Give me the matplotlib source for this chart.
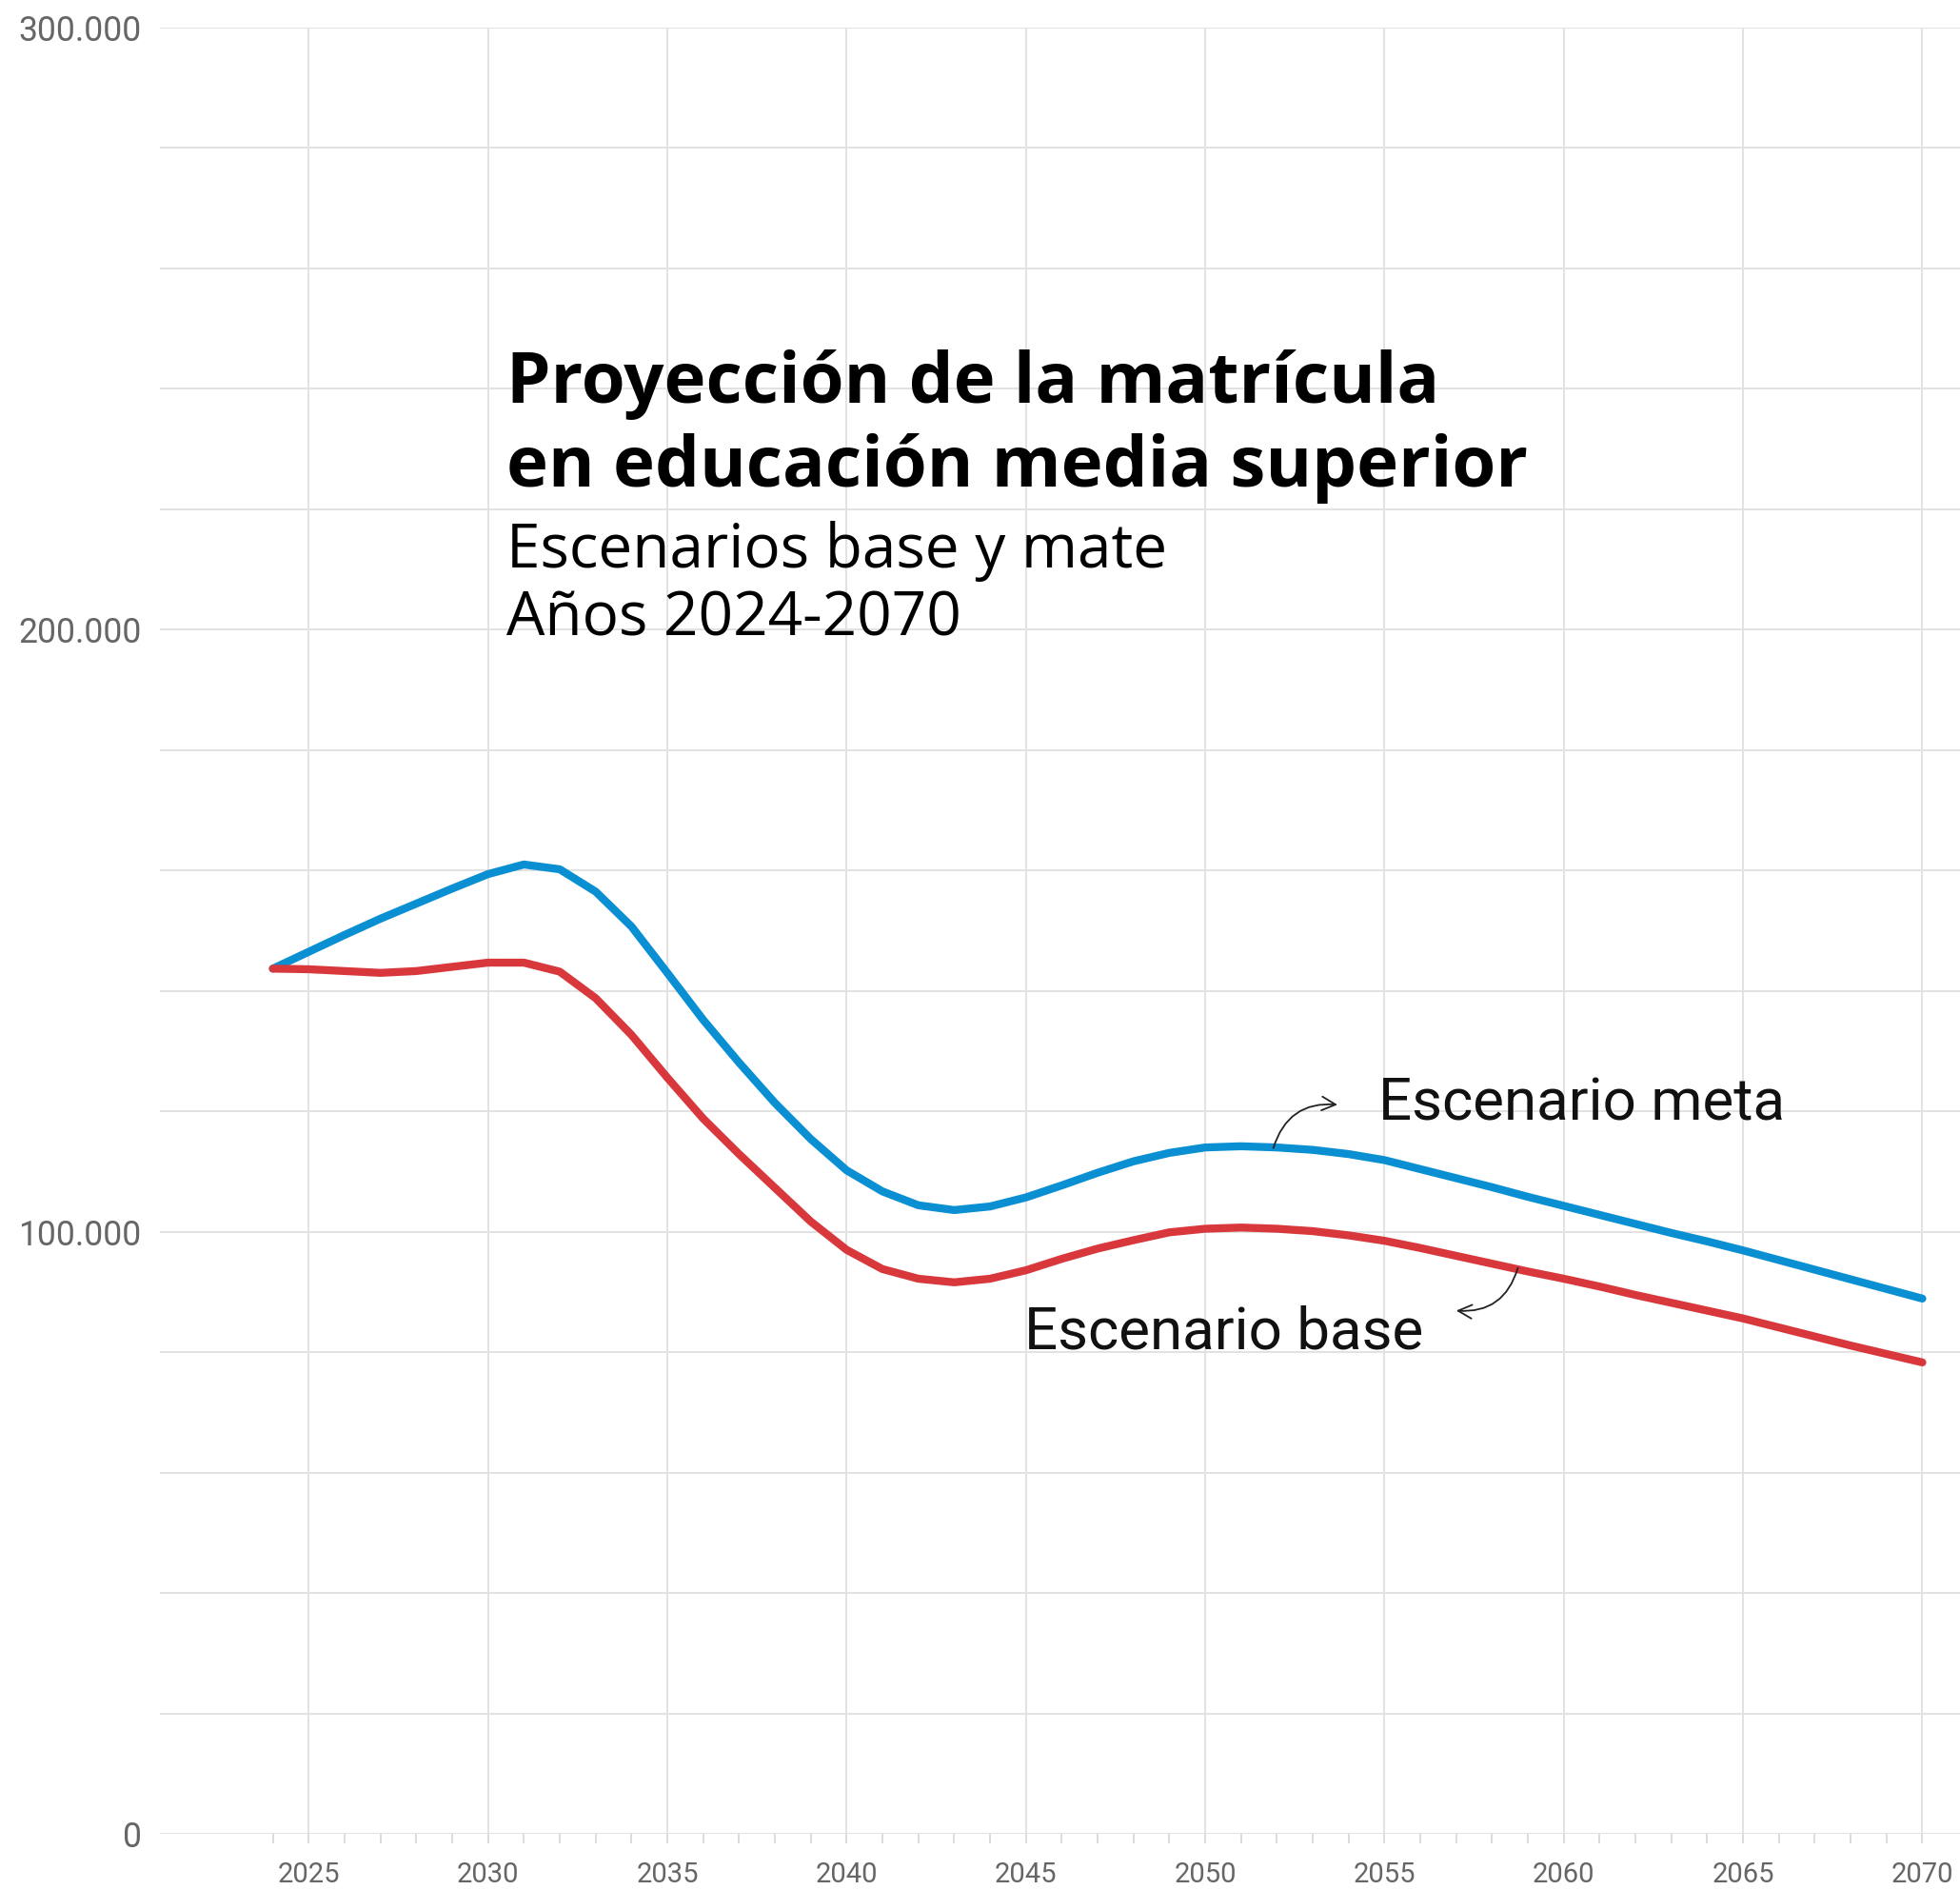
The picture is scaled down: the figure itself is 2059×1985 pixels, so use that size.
import matplotlib
matplotlib.use("Agg")
import matplotlib.pyplot as plt
from matplotlib.ticker import FixedLocator, FuncFormatter

# data (annual values)
years = list(range(2024, 2071))

meta = [143.7, 146.5, 149.3, 152.0, 154.5, 157.0, 159.4, 161.0, 160.2, 156.5,
        150.7, 143.0, 135.2, 128.1, 121.4, 115.4, 110.2, 106.7, 104.4, 103.6,
        104.2, 105.7, 107.7, 109.8, 111.7, 113.1, 114.0, 114.2, 114.0, 113.6,
        112.9, 111.9, 110.4, 108.9, 107.4, 105.8, 104.3, 102.8, 101.3, 99.8,
        98.4, 96.9, 95.3, 93.7, 92.1, 90.5, 88.9]

base = [143.7, 143.6, 143.3, 143.0, 143.3, 144.0, 144.7, 144.7, 143.2, 138.8,
        132.7, 125.6, 118.8, 112.9, 107.3, 101.7, 97.0, 93.8, 92.2, 91.6,
        92.2, 93.6, 95.5, 97.2, 98.6, 99.9, 100.5, 100.7, 100.5, 100.1,
        99.4, 98.5, 97.3, 96.0, 94.7, 93.4, 92.2, 90.9, 89.5, 88.2,
        86.9, 85.6, 84.1, 82.6, 81.1, 79.7, 78.3]

meta = [v * 1000 for v in meta]
base = [v * 1000 for v in base]

x_major = list(range(2025, 2071, 5))
x_minor = list(range(2024, 2071))
y_major = [0, 100000, 200000, 300000]
y_minor = list(range(0, 300001, 20000))

title_lines = ["Proyección de la matrícula", "en educación media superior"]
subtitle_lines = ["Escenarios base y mate", "Años 2024-2070"]

W, H = 2059, 1985
fig = plt.figure(figsize=(W / 100, H / 100), dpi=100)
ax = fig.add_axes([168 / W, 59 / H, 1 - 168 / W, (1926 - 29) / H])

ax.plot(years, meta, color="#0A8FD2", lw=6, solid_capstyle="round", zorder=3)
ax.plot(years, base, color="#D8383B", lw=6, solid_capstyle="round", zorder=3)

ax.set_xlim(2020.85, 2071.05)
ax.set_ylim(0, 300000)

for s in ax.spines.values():
    s.set_visible(False)

ax.xaxis.set_major_locator(FixedLocator(x_major))
ax.xaxis.set_minor_locator(FixedLocator(x_minor))
ax.yaxis.set_major_locator(FixedLocator(y_major))
ax.yaxis.set_minor_locator(FixedLocator(y_minor))
ax.yaxis.set_major_formatter(FuncFormatter(lambda v, p: f"{int(v):,}".replace(",", ".")))

ax.grid(True, which="major", axis="x", color="#e2e2e2", lw=1.4, zorder=0)
ax.grid(True, which="both", axis="y", color="#e2e2e2", lw=1.4, zorder=0)
ax.set_axisbelow(True)

ax.tick_params(axis="x", which="both", direction="out", length=7, width=1.2,
               color="#d6d6d6", labelsize=21, labelcolor="#666666", pad=14)
ax.tick_params(axis="y", which="both", length=0, labelsize=25.6,
               labelcolor="#666666", pad=14)
for lab in ax.get_xticklabels() + ax.get_yticklabels():
    lab.set_fontfamily("Roboto")

# title block, each line placed on its own baseline (figure pixels)
for txt, yb in zip(title_lines, [423, 511]):
    fig.text(532 / W, 1 - yb / H, txt, fontsize=53.5, fontweight="bold",
             family="Open Sans", va="baseline", ha="left")
for txt, yb in zip(subtitle_lines, [596, 667]):
    fig.text(532 / W, 1 - yb / H, txt, fontsize=46.0, family="Open Sans",
             va="baseline", ha="left")

# labels with curved arrows
ax.text(2054.83, 118600, "Escenario meta", fontsize=44.6, family="Roboto",
        va="baseline", ha="left", color="#111111")
ax.text(2044.95, 80500, "Escenario base", fontsize=44.6, family="Roboto",
        va="baseline", ha="left", color="#111111")

ax.annotate("", xy=(2053.69, 121100), xytext=(2051.9, 113900),
            arrowprops=dict(arrowstyle="->", lw=1.3, color="#222222",
                            connectionstyle="arc3,rad=-0.4", mutation_scale=26,
                            shrinkA=0, shrinkB=0))
ax.annotate("", xy=(2057.0, 86900), xytext=(2058.72, 94000),
            arrowprops=dict(arrowstyle="->", lw=1.3, color="#222222",
                            connectionstyle="arc3,rad=-0.4", mutation_scale=26,
                            shrinkA=0, shrinkB=0))

fig.savefig("out.png", dpi=100, facecolor="white")
